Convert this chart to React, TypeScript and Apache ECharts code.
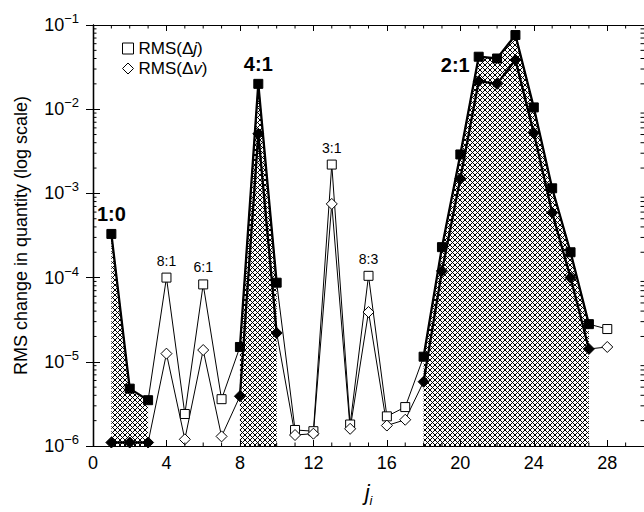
import React, { useEffect, useRef } from 'react';
import * as echarts from 'echarts';

// ---- data ----
const jValues = [1, 2, 3, 4, 5, 6, 7, 8, 9, 10, 11, 12, 13, 14, 15, 16, 17, 18, 19, 20, 21, 22, 23, 24, 25, 26, 27, 28];
const rmsDj = [3.3e-4, 4.8e-6, 3.5e-6, 1.0e-4, 2.4e-6, 8.3e-5, 3.6e-6, 1.5e-5, 2.0e-2, 8.7e-5, 1.55e-6, 1.5e-6, 2.2e-3, 1.8e-6, 1.05e-4, 2.25e-6, 2.9e-6, 1.15e-5, 2.3e-4, 2.9e-3, 4.2e-2, 4.0e-2, 7.6e-2, 1.05e-2, 1.15e-3, 2.0e-4, 2.8e-5, 2.45e-5];
const rmsDv = [1.1e-6, 1.1e-6, 1.1e-6, 1.25e-5, 1.2e-6, 1.38e-5, 1.3e-6, 3.9e-6, 5.1e-3, 2.2e-5, 1.35e-6, 1.4e-6, 7.5e-4, 1.6e-6, 3.9e-5, 1.75e-6, 2.05e-6, 5.8e-6, 1.2e-4, 1.5e-3, 2.15e-2, 2.0e-2, 3.85e-2, 5.2e-3, 5.9e-4, 1.0e-4, 1.42e-5, 1.5e-5];
const resonantJ = [1, 2, 3, 8, 9, 10, 18, 19, 20, 21, 22, 23, 24, 25, 26, 27];
const annotJ = [1, 4, 6, 9, 13, 15, 21];
const annotText = ['1:0', '8:1', '6:1', '4:1', '3:1', '8:3', '2:1'];
const majorResonances = ['1:0', '4:1', '2:1'];
const xTickValues = [0, 4, 8, 12, 16, 20, 24, 28];
const yDecades = [1e-6, 1e-5, 1e-4, 1e-3, 1e-2, 1e-1];
const minorMultipliers = [2, 3, 4, 5, 6, 7, 8, 9];
const seriesNames = ['RMS(Δj)', 'RMS(Δv)'];

const FONT = '"Liberation Sans", Arial, Helvetica, sans-serif';
const X_MIN = 0;
const X_MAX = 30;
const Y_MIN = 1e-6;
const Y_MAX = 1e-1;

function makeHatch(): HTMLCanvasElement {
  const p = 5;
  const c = document.createElement('canvas');
  c.width = p;
  c.height = p;
  const ctx = c.getContext('2d')!;
  ctx.strokeStyle = '#000';
  ctx.lineWidth = 1.0;
  ctx.beginPath();
  for (let k = -p; k <= p; k += p) {
    ctx.moveTo(k - 1, -1);
    ctx.lineTo(k + p + 1, p + 1);
    ctx.moveTo(k + p + 1, -1);
    ctx.lineTo(k - 1, p + 1);
  }
  ctx.stroke();
  return c;
}

const isRes = (j: number) => resonantJ.indexOf(j) >= 0;

export default function App() {
  const ref = useRef<HTMLDivElement>(null);

  useEffect(() => {
    if (!ref.current) return;
    const chart = echarts.init(ref.current, undefined, { renderer: 'svg' });
    const hatch = makeHatch();

    const mainData = (vals: number[]) =>
      jValues.map((j, i) => ({
        value: [j, vals[i]],
        itemStyle: isRes(j) ? { color: '#000', borderColor: '#000' } : undefined,
      }));
    const thickData = (vals: number[]) => jValues.map((j, i) => [j, isRes(j) ? vals[i] : '-']);

    const minorTickRender = (params: any, api: any) => {
      const children: any[] = [];
      const ln = (x1: number, y1: number, x2: number, y2: number) =>
        children.push({ type: 'line', shape: { x1, y1, x2, y2 }, style: { stroke: '#000', lineWidth: 1 } });
      const L = 3.5;
      for (let d = 0; d < yDecades.length - 1; d++) {
        for (const m of minorMultipliers) {
          const v = yDecades[d] * m;
          const pl = api.coord([X_MIN, v]);
          const pr = api.coord([X_MAX, v]);
          ln(pl[0], pl[1], pl[0] + L, pl[1]);
          ln(pr[0], pr[1], pr[0] - L, pr[1]);
        }
      }
      for (let k = X_MIN + 1; k < X_MAX; k++) {
        if (k % 4 === 0) continue;
        const pb = api.coord([k, Y_MIN]);
        const pt = api.coord([k, Y_MAX]);
        ln(pb[0], pb[1], pb[0], pb[1] - L);
        ln(pt[0], pt[1], pt[0], pt[1] + L);
      }
      return { type: 'group', children };
    };

    const axisLineStyle = { color: '#000', width: 1.2 };

    const option: any = {
      animation: false,
      textStyle: { fontFamily: FONT, color: '#000' },
      grid: { left: 93, top: 25, width: 552, height: 433, containLabel: false },
      legend: {
        orient: 'vertical',
        left: 117,
        top: 35,
        itemWidth: 11,
        itemHeight: 11,
        itemGap: 3,
        data: [
          { name: seriesNames[0], icon: 'rect' },
          { name: seriesNames[1], icon: 'diamond' },
        ],
        itemStyle: { color: '#fff', borderColor: '#000', borderWidth: 1 },
        lineStyle: { width: 0, opacity: 0 },
        formatter: (name: string) => {
          const letter = name === seriesNames[0] ? 'j' : 'v';
          return `{a|RMS(Δ}{b|${letter}}{a|)}`;
        },
        textStyle: {
          rich: {
            a: { fontSize: 17, fontFamily: FONT, color: '#000', lineHeight: 21 },
            b: { fontSize: 17, fontFamily: FONT, color: '#000', fontStyle: 'italic', lineHeight: 21 },
          },
        },
      },
      xAxis: [
        {
          type: 'value',
          min: X_MIN,
          max: X_MAX,
          position: 'bottom',
          axisLine: { show: true, lineStyle: axisLineStyle },
          axisTick: { show: true, inside: true, length: 6, customValues: xTickValues, lineStyle: { color: '#000' } },
          axisLabel: { customValues: xTickValues, fontSize: 18, color: '#000', margin: 8, fontFamily: FONT },
          splitLine: { show: false },
          name: '{j|j}{i|i}',
          nameLocation: 'middle',
          nameGap: 31,
          nameTextStyle: {
            rich: {
              j: { fontSize: 22, fontStyle: 'italic', fontFamily: FONT, color: '#000', lineHeight: 30 },
              i: { fontSize: 13, fontStyle: 'italic', fontFamily: FONT, color: '#000', lineHeight: 13, verticalAlign: 'bottom' },
            },
          },
        },
        {
          type: 'value',
          min: X_MIN,
          max: X_MAX,
          position: 'top',
          axisLine: { show: true, lineStyle: axisLineStyle },
          axisTick: { show: true, inside: true, length: 6, customValues: xTickValues, lineStyle: { color: '#000' } },
          axisLabel: { show: false },
          splitLine: { show: false },
        },
      ],
      yAxis: [
        {
          type: 'log',
          logBase: 10,
          min: Y_MIN,
          max: Y_MAX,
          position: 'left',
          axisLine: { show: true, lineStyle: { color: '#000', width: 1.4 } },
          axisTick: { show: true, inside: true, length: 7, lineStyle: { color: '#000' } },
          splitLine: { show: false },
          axisLabel: {
            margin: 14,
            formatter: (v: number) => `{b|10}{s|−${-Math.round(Math.log10(v))}}`,
            rich: {
              b: { fontSize: 18, fontFamily: FONT, color: '#000', lineHeight: 26 },
              s: { fontSize: 13, fontFamily: FONT, color: '#000', lineHeight: 13, verticalAlign: 'top' },
            },
          },
          name: 'RMS change in quantity (log scale)',
          nameLocation: 'middle',
          nameGap: 63,
          nameTextStyle: { fontSize: 18, fontFamily: FONT, color: '#000' },
        },
        {
          type: 'log',
          logBase: 10,
          min: Y_MIN,
          max: Y_MAX,
          position: 'right',
          axisLine: { show: true, lineStyle: axisLineStyle },
          axisTick: { show: true, inside: true, length: 7, lineStyle: { color: '#000' } },
          axisLabel: { show: false },
          splitLine: { show: false },
        },
      ],
      series: [
        {
          name: 'hatch',
          type: 'line',
          data: thickData(rmsDj),
          symbol: 'none',
          connectNulls: false,
          lineStyle: { width: 0, opacity: 0 },
          areaStyle: { origin: 'start', color: { image: hatch, repeat: 'repeat' }, opacity: 1 },
          z: 1,
          silent: true,
        },
        {
          name: 'dj-thick',
          type: 'line',
          data: thickData(rmsDj),
          symbol: 'none',
          connectNulls: false,
          lineStyle: { color: '#000', width: 2.3 },
          z: 2,
          silent: true,
        },
        {
          name: 'dv-thick',
          type: 'line',
          data: thickData(rmsDv),
          symbol: 'none',
          connectNulls: false,
          lineStyle: { color: '#000', width: 2.3 },
          z: 2,
          silent: true,
        },
        {
          name: seriesNames[0],
          type: 'line',
          data: mainData(rmsDj),
          symbol: 'rect',
          symbolSize: 9,
          showSymbol: true,
          lineStyle: { color: '#000', width: 1 },
          itemStyle: { color: '#fff', borderColor: '#000', borderWidth: 1 },
          z: 3,
        },
        {
          name: seriesNames[1],
          type: 'line',
          data: mainData(rmsDv),
          symbol: 'diamond',
          symbolSize: 11,
          showSymbol: true,
          lineStyle: { color: '#000', width: 1 },
          itemStyle: { color: '#fff', borderColor: '#000', borderWidth: 1 },
          z: 3,
        },
        {
          name: 'annotations',
          type: 'scatter',
          symbol: 'rect',
          symbolSize: 10,
          itemStyle: { color: 'rgba(255,255,255,0)' },
          label: { show: true, color: '#000', opacity: 1, textBorderWidth: 0 },
          silent: true,
          z: 10,
          data: annotJ.map((j, i) => {
            const major = majorResonances.indexOf(annotText[i]) >= 0;
            const isLeft = annotText[i] === '2:1';
            return {
              value: [j, rmsDj[jValues.indexOf(j)]],
              label: {
                show: true,
                formatter: annotText[i],
                position: isLeft ? 'left' : 'top',
                distance: isLeft ? 4 : 5,
                offset: isLeft ? [0, 8] : [0, 0],
                fontSize: major ? 20 : 14,
                fontWeight: major ? 'bold' : 'normal',
                fontFamily: FONT,
                color: '#000',
                opacity: 1,
              },
            };
          }),
        },
        {
          name: 'minor-ticks',
          type: 'custom',
          data: [[X_MIN, Y_MIN]],
          renderItem: minorTickRender,
          silent: true,
          clip: false,
          z: 5,
        },
      ],
    };

    chart.setOption(option);
    return () => chart.dispose();
  }, []);

  return (
    <div
      ref={ref}
      style={{ position: 'fixed', left: 0, top: 0, width: 644, height: 512, background: '#fff' }}
    />
  );
}
